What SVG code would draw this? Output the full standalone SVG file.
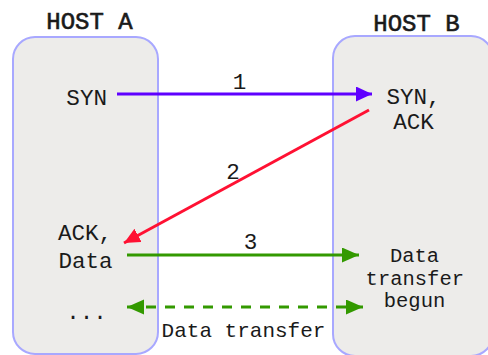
<svg xmlns="http://www.w3.org/2000/svg" width="488" height="355" viewBox="0 0 488 355">
  <style>
    .host { fill: #edecea; stroke: #a8a8ff; stroke-width: 2; }
    .t { font-family: "Liberation Mono", "DejaVu Sans Mono", monospace; fill: #1a1a1a; text-anchor: middle; }
    .big { font-size: 24px; stroke: #1a1a1a; stroke-width: 0.6; }
    .mid { font-size: 22.6px; }
    .sm { font-size: 20.5px; }
    .line { fill: none; stroke-width: 3; }
  </style>
  <defs>
    <marker id="ab" markerUnits="userSpaceOnUse" markerWidth="16" markerHeight="16" refX="16" refY="7.5" orient="auto">
      <path d="M0,0 L16,7.5 L0,15 z" fill="#5f00ff"/>
    </marker>
    <marker id="ar" markerUnits="userSpaceOnUse" markerWidth="16" markerHeight="16" refX="16" refY="7.5" orient="auto">
      <path d="M0,0 L16,7.5 L0,15 z" fill="#ff1133"/>
    </marker>
    <marker id="ag" markerUnits="userSpaceOnUse" markerWidth="17" markerHeight="16" refX="17" refY="7.5" orient="auto-start-reverse">
      <path d="M0,0 L17,7.5 L0,15 z" fill="#339900"/>
    </marker>
  </defs>
  <rect width="488" height="355" fill="#ffffff"/>

  <g id="hostA">
    <rect class="host" x="13" y="37" width="145" height="317" rx="22" ry="22"/>
    <text class="t big" x="89.5" y="29">HOST A</text>
  </g>
  <g id="hostB">
    <rect class="host" x="333" y="36" width="160" height="320" rx="22" ry="22"/>
    <text class="t big" x="416.5" y="30.5">HOST B</text>
  </g>

  <g id="connectors">
    <line class="line" x1="117" y1="94" x2="372" y2="94" stroke="#5f00ff" marker-end="url(#ab)"/>
    <line class="line" x1="369" y1="110" x2="124" y2="243" stroke="#ff1133" marker-end="url(#ar)"/>
    <line class="line" x1="127" y1="255" x2="359" y2="255" stroke="#339900" marker-end="url(#ag)"/>
    <line class="line" x1="127" y1="307" x2="363" y2="307" stroke="#339900" stroke-dasharray="10 9" marker-start="url(#ag)" marker-end="url(#ag)"/>
    <text class="t mid" x="239.5" y="89">1</text>
    <text class="t mid" x="233" y="179">2</text>
    <text class="t mid" x="250.5" y="249">3</text>
    <text class="t mid" x="243.5" y="336.5" style="font-size:21px">Data transfer</text>
  </g>

  <g id="syn">
    <text class="t mid" x="86.7" y="105">SYN</text>
  </g>
  <g id="synack">
    <text class="t mid" x="413.5" y="104">SYN,</text>
    <text class="t mid" x="413.5" y="129">ACK</text>
  </g>
  <g id="ackdata">
    <text class="t mid" x="85" y="240">ACK,</text>
    <text class="t mid" x="85.5" y="268">Data</text>
  </g>
  <g id="dots">
    <text class="t mid" x="86.5" y="319">...</text>
  </g>
  <g id="begun">
    <text class="t sm" x="414.5" y="262">Data</text>
    <text class="t sm" x="414.8" y="285">transfer</text>
    <text class="t sm" x="414.5" y="306.5">begun</text>
  </g>
</svg>
